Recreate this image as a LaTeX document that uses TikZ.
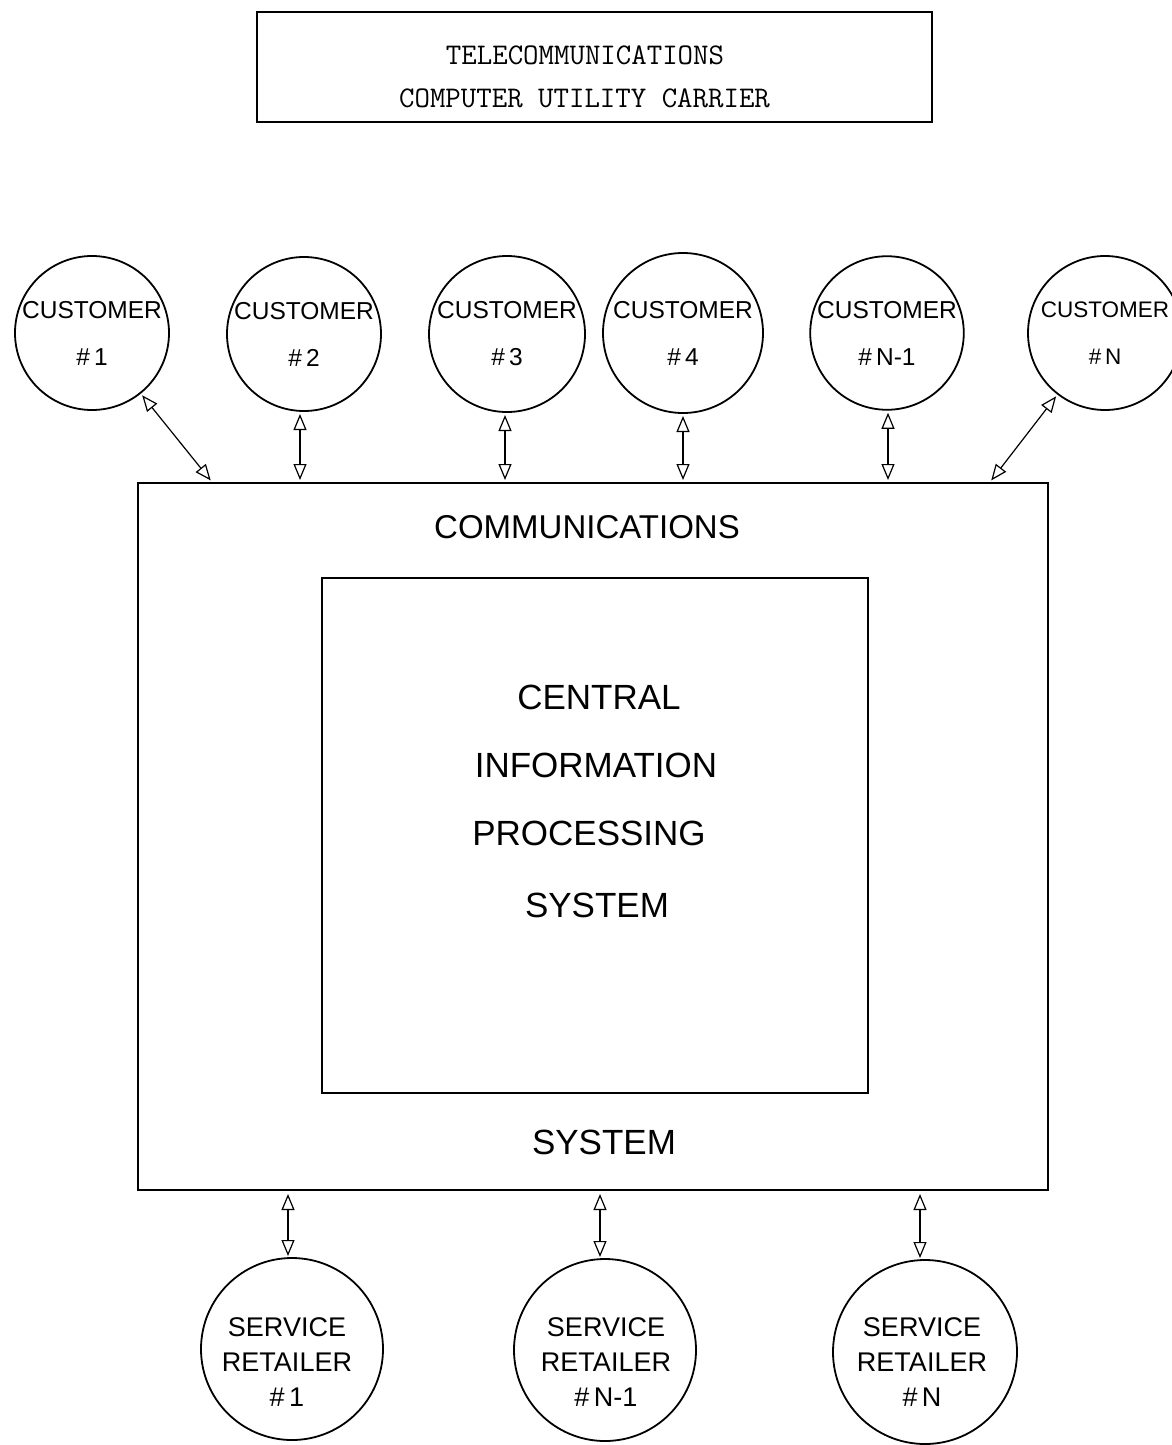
\documentclass[tikz,border=0pt]{standalone}
\usepackage{fontspec}
\setmainfont{Liberation Sans}
\usetikzlibrary{arrows.meta}
\tikzset{
  cust/.style={draw, circle, line width=1.8pt, inner sep=0pt, outer sep=0pt, minimum size=154pt,
    align=center, font=\fontsize{24.5}{47}\selectfont},
  retail/.style={draw, circle, line width=1.8pt, inner sep=0pt, outer sep=0pt, minimum size=182pt},
  rtext/.style={align=center, font=\fontsize{27}{35}\selectfont},
  bigbox/.style={draw, line width=1.8pt, inner sep=0pt, outer sep=0pt},
  bigtext/.style={font=\fontsize{35}{35}\selectfont},
  ttext/.style={font=\ttfamily\fontsize{30}{30}\selectfont},
  biarrow/.style={line width=1.2pt, {Triangle[open,length=16pt,width=13pt,line width=1.2pt]}-{Triangle[open,length=16pt,width=13pt,line width=1.2pt]}, shorten <=3pt, shorten >=2pt}
}
\begin{document}
\begin{tikzpicture}[x=1pt,y=-1pt]
\useasboundingbox[fill=white] (0,0) rectangle (1172,1445);
% title
\node[bigbox, minimum width=675pt, minimum height=110pt] (title) at (594.5,67) {};
\node[ttext] (t1) at (585,55) {TELECOMMUNICATIONS};
\node[ttext] (t2) at (584.5,98) {COMPUTER UTILITY CARRIER};
% customers
\node[cust] (c1) at (92,333) {CUSTOMER\\\#\,1};
\node[cust] (c2) at (304,334) {CUSTOMER\\\#\,2};
\node[cust, minimum size=156pt] (c3) at (507,334) {CUSTOMER\\\#\,3};
\node[cust, minimum size=160pt] (c4) at (683,333) {CUSTOMER\\\#\,4};
\node[cust, minimum size=152pt] (c5) at (887,333) {CUSTOMER\\\#\,N-1};
\node[cust, font=\fontsize{22.5}{47}\selectfont] (c6) at (1105,333) {CUSTOMER\\\#\,N};
% main box
\node[bigbox, minimum width=910pt, minimum height=707pt] (comm) at (593,836.5) {};
\node[bigbox, minimum width=546pt, minimum height=515pt] (cip) at (595,835.5) {};
\node[bigtext, font=\fontsize{33}{33}\selectfont] (lcomm) at (587,527) {COMMUNICATIONS};
\node[bigtext] (lsys) at (604,1142) {SYSTEM};
\node[bigtext] (l1) at (599,697) {CENTRAL};
\node[bigtext] (l2) at (596,765) {INFORMATION};
\node[bigtext] (l3) at (589,833) {PROCESSING};
\node[bigtext] (l4) at (597,905) {SYSTEM};
% retailers
\node[retail] (s1) at (292,1349) {};
\node[retail] (s2) at (605,1350) {};
\node[retail, minimum size=184pt] (s3) at (925,1352) {};
\node[rtext] (st1) at (287,1362) {SERVICE\\RETAILER\\\#\,1};
\node[rtext] (st2) at (606,1362) {SERVICE\\RETAILER\\\#\,N-1};
\node[rtext] (st3) at (922,1362) {SERVICE\\RETAILER\\\#\,N};
% connector end points on the box
\coordinate (p1) at (212,482);
\coordinate (p2) at (300,482);
\coordinate (p3) at (505,482);
\coordinate (p4) at (683,482);
\coordinate (p5) at (888,482);
\coordinate (p6) at (990,482);
\coordinate (q1) at (288,1191);
\coordinate (q2) at (600,1191);
\coordinate (q3) at (920,1191);
\draw[biarrow] (c1) -- (p1);
\draw[biarrow] (c2.south -| p2) -- (p2);
\draw[biarrow] (c3.south -| p3) -- (p3);
\draw[biarrow] (c4.south -| p4) -- (p4);
\draw[biarrow] (c5.south -| p5) -- (p5);
\draw[biarrow] (c6) -- (p6);
\draw[biarrow] (q1) -- (s1.north -| q1);
\draw[biarrow] (q2) -- (s2.north -| q2);
\draw[biarrow] (q3) -- (s3.north -| q3);
\end{tikzpicture}
\end{document}
